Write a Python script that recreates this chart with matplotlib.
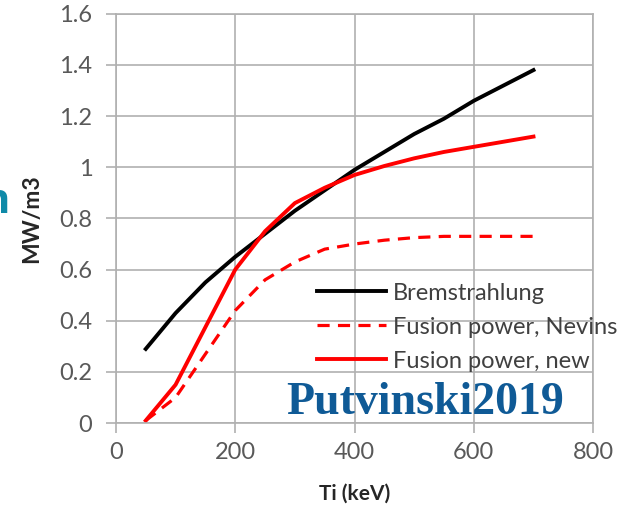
import numpy as np
import matplotlib.pyplot as plt

# Ti (keV) and power density (MW/m3)
ti = [50, 100, 150, 200, 250, 300, 350, 400, 450, 500, 550, 600, 650, 700]
brems = [0.29, 0.43, 0.55, 0.65, 0.74, 0.83, 0.91, 0.99, 1.06, 1.13, 1.19, 1.26, 1.32, 1.38]
fus_nevins = [0.01, 0.10, 0.27, 0.44, 0.56, 0.63, 0.68, 0.70, 0.715, 0.725, 0.73, 0.73, 0.73, 0.73]
ti_new = [50, 100, 200, 250, 300, 350, 400, 450, 500, 550, 600, 650, 700]
fus_new = [0.01, 0.15, 0.60, 0.75, 0.86, 0.92, 0.97, 1.005, 1.035, 1.06, 1.08, 1.10, 1.12]

xticks = [0, 200, 400, 600, 800]
yticks = [0, 0.2, 0.4, 0.6, 0.8, 1, 1.2, 1.4, 1.6]
ytick_labels = ['0', '0.2', '0.4', '0.6', '0.8', '1', '1.2', '1.4', '1.6']

plt.rcParams['font.family'] = ['Lato', 'DejaVu Sans']

fig = plt.figure(figsize=(6.44, 5.11), dpi=100)
ax = fig.add_axes([0.180, 0.172, 0.741, 0.801])

ax.plot(ti, brems, color='black', lw=2.8, label='Bremstrahlung')
ax.plot(ti, fus_nevins, color='#ff0000', lw=2.3, dashes=(3.8, 2.6), label='Fusion power, Nevins')
ax.plot(ti_new, fus_new, color='#ff0000', lw=2.8, label='Fusion power, new')

ax.set_xlim(0, 800)
ax.set_ylim(0, 1.6)
ax.set_xticks(xticks)
ax.set_yticks(yticks)
ax.set_yticklabels(ytick_labels)
ax.grid(True, color='#b0b0b0', lw=1.2)
ax.set_axisbelow(True)
for s in ax.spines.values():
    s.set_color('#b0b0b0')
    s.set_linewidth(1.2)
ax.tick_params(axis='both', colors='#b0b0b0', labelcolor='#595959', labelsize=17,
               length=7.5, width=1.2)
ax.tick_params(axis='y', pad=9.5)
ax.tick_params(axis='x', pad=6)

ax.set_xlabel('Ti (keV)', fontsize=15, fontweight='bold', color='#262626')
ax.set_ylabel('MW/m3', fontsize=16.5, fontweight='bold', color='#262626')
ax.xaxis.set_label_coords(0.5, -0.148)
ax.yaxis.set_label_coords(-0.155, 0.5)

leg = ax.legend(loc='upper left', bbox_to_anchor=(0.493, 0.447), bbox_transform=fig.transFigure,
                frameon=False, fontsize=17, handlelength=2.9, handletextpad=0.3,
                labelspacing=0.55, borderaxespad=0, borderpad=0)
for t in leg.get_texts():
    t.set_color('#404040')

ax.text(0.66, 0.212, 'Putvinski2019', transform=fig.transFigure, ha='center', va='center',
        fontsize=33, fontweight='bold', family='Liberation Serif', color='#0f5a96')

# cropped letter at the left edge of the slide
fig.text(-0.027, 0.583, 'n', fontsize=30, fontweight='bold', color='#0f8aa8',
         ha='left', va='baseline', family='Open Sans')

fig.savefig('out.png', dpi=100)
